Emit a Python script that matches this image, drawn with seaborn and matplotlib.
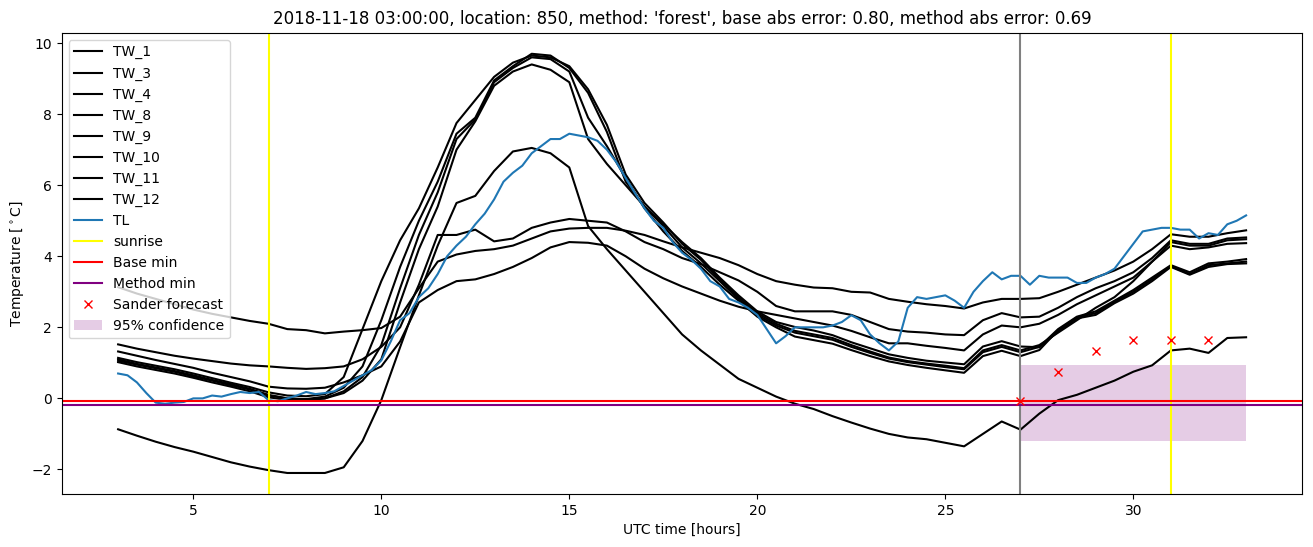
import numpy as np
import matplotlib
matplotlib.use("Agg")
import matplotlib.pyplot as plt
import seaborn as sns

# half-hourly grid for the TW sensors, quarter-hourly for TL
hours = np.arange(3, 33.001, 0.5)
hours_tl = np.arange(3, 33.001, 0.25)

tw_1 = [1.14, 1.02, 0.92, 0.82, 0.7, 0.57, 0.44, 0.32, 0.17, 0.08, 0.06, 0.12, 0.6, 1.95, 3.3, 4.45,
        5.35, 6.5, 7.75, 8.4, 9.05, 9.45, 9.65, 9.6, 9.35, 8.7, 7.7, 6.3, 5.5, 4.95, 4.35, 3.9,
        3.35, 2.85, 2.4, 2.1, 1.9, 1.8, 1.7, 1.5, 1.32, 1.15, 1.05, 0.98, 0.92, 0.85, 1.35, 1.5,
        1.35, 1.5, 1.85, 2.2, 2.55, 2.85, 3.3, 3.85, 4.3, 4.2, 4.25, 4.35, 4.37]
tw_3 = [1.1, 0.97, 0.87, 0.77, 0.65, 0.52, 0.4, 0.27, 0.1, 0.0, -0.02, 0.05, 0.3, 0.9, 2.2, 3.7,
        5.0, 6.1, 7.45, 7.9, 8.95, 9.35, 9.7, 9.65, 9.3, 8.6, 7.5, 6.1, 5.4, 4.85, 4.25, 3.8,
        3.3, 2.8, 2.35, 2.05, 1.85, 1.75, 1.65, 1.45, 1.28, 1.12, 1.02, 0.95, 0.88, 0.82, 1.3, 1.45,
        1.3, 1.45, 1.95, 2.3, 2.45, 2.75, 3.05, 3.4, 3.75, 3.55, 3.8, 3.85, 3.92]
tw_4 = [1.06, 0.95, 0.85, 0.75, 0.62, 0.5, 0.37, 0.25, 0.08, 0.0, -0.03, 0.0, 0.2, 0.6, 1.5, 3.1,
        4.6, 5.8, 7.3, 7.85, 8.9, 9.3, 9.6, 9.55, 9.2, 7.9, 7.1, 6.2, 5.35, 4.7, 4.15, 3.7,
        3.2, 2.75, 2.3, 2.0, 1.74, 1.64, 1.54, 1.36, 1.19, 1.04, 0.94, 0.86, 0.79, 0.72, 1.19, 1.34,
        1.19, 1.36, 1.92, 2.28, 2.4, 2.72, 3.0, 3.35, 3.72, 3.5, 3.75, 3.8, 3.85]
tw_8 = [1.02, 0.9, 0.8, 0.7, 0.58, 0.45, 0.33, 0.2, 0.03, -0.04, -0.06, 0.0, 0.15, 0.5, 1.1, 2.7,
        4.2, 5.4, 7.0, 7.8, 8.8, 9.2, 9.4, 9.25, 8.9, 7.3, 6.6, 6.0, 5.4, 4.9, 4.4, 3.95,
        3.4, 2.9, 2.45, 2.15, 2.01, 1.91, 1.78, 1.58, 1.41, 1.24, 1.14, 1.06, 1.01, 0.96, 1.46, 1.61,
        1.46, 1.44, 1.88, 2.25, 2.35, 2.68, 2.95, 3.3, 3.7, 3.48, 3.7, 3.78, 3.8]
tw_9 = [3.13, 2.95, 2.8, 2.65, 2.5, 2.38, 2.28, 2.18, 2.1, 1.95, 1.92, 1.83, 1.88, 1.92, 1.98, 2.3,
        3.1, 3.85, 4.05, 4.15, 4.2, 4.3, 4.5, 4.7, 4.78, 4.8, 4.8, 4.72, 4.6, 4.42, 4.25, 4.1,
        3.95, 3.75, 3.5, 3.3, 3.2, 3.12, 3.1, 3.0, 2.98, 2.8, 2.72, 2.65, 2.6, 2.53, 2.7, 2.8,
        2.8, 2.82, 3.0, 3.2, 3.4, 3.6, 3.85, 4.2, 4.62, 4.55, 4.55, 4.65, 4.73]
tw_10 = [1.52, 1.4, 1.3, 1.2, 1.12, 1.05, 0.98, 0.93, 0.9, 0.86, 0.83, 0.85, 0.9, 1.1, 1.45, 2.0,
         3.2, 4.6, 4.6, 4.75, 4.42, 4.5, 4.8, 4.95, 5.05, 5.0, 4.95, 4.7, 4.4, 4.2, 3.95, 3.78,
         3.55, 3.32, 3.0, 2.6, 2.45, 2.45, 2.45, 2.35, 2.15, 1.95, 1.88, 1.85, 1.8, 1.78, 2.2, 2.4,
         2.28, 2.3, 2.55, 2.85, 3.1, 3.3, 3.55, 3.95, 4.45, 4.35, 4.35, 4.5, 4.53]
tw_11 = [1.32, 1.2, 1.08, 0.97, 0.86, 0.72, 0.6, 0.48, 0.33, 0.28, 0.27, 0.3, 0.45, 0.65, 0.9, 1.6,
         2.7, 3.05, 3.3, 3.35, 3.5, 3.7, 3.95, 4.25, 4.4, 4.38, 4.3, 4.0, 3.65, 3.38, 3.15, 2.95,
         2.75, 2.58, 2.45, 2.35, 2.25, 2.15, 2.05, 1.9, 1.72, 1.55, 1.55, 1.48, 1.42, 1.35, 1.8, 2.05,
         2.0, 2.1, 2.35, 2.65, 2.9, 3.15, 3.4, 3.85, 4.4, 4.3, 4.3, 4.45, 4.48]
tw_12 = [-0.87, -1.05, -1.22, -1.37, -1.5, -1.65, -1.8, -1.92, -2.02, -2.1, -2.1, -2.1, -1.94, -1.2, -0.05, 1.44,
         2.9, 4.3, 5.5, 5.7, 6.4, 6.95, 7.05, 6.9, 6.5, 4.85, 4.2, 3.6, 3.0, 2.4, 1.8, 1.35,
         0.95, 0.55, 0.3, 0.05, -0.15, -0.3, -0.5, -0.68, -0.85, -1.0, -1.1, -1.15, -1.25, -1.35, -1.0, -0.65,
         -0.88, -0.43, -0.05, 0.1, 0.3, 0.5, 0.75, 0.93, 1.35, 1.4, 1.28, 1.7, 1.72]

tl = [0.70, 0.65, 0.45, 0.15, -0.12, -0.15, -0.12, -0.10, 0.00, 0.00, 0.08, 0.05,
      0.12, 0.18, 0.15, 0.18, -0.05, -0.08, 0.00, 0.08, 0.18, 0.12, 0.15, 0.20,
      0.35, 0.50, 0.65, 0.80, 1.07, 1.60, 2.20, 2.40, 2.85, 3.10, 3.50, 4.00,
      4.30, 4.55, 4.90, 5.20, 5.60, 6.10, 6.35, 6.55, 6.90, 7.10, 7.30, 7.30,
      7.45, 7.40, 7.35, 7.25, 7.00, 6.65, 6.20, 5.77, 5.35, 5.00, 4.80, 4.40,
      4.10, 3.90, 3.65, 3.30, 3.15, 2.80, 2.70, 2.55, 2.35, 1.95, 1.55, 1.75,
      2.00, 2.00, 2.00, 2.00, 2.05, 2.15, 2.34, 2.20, 1.80, 1.55, 1.35, 1.60,
      2.55, 2.85, 2.80, 2.85, 2.90, 2.75, 2.55, 3.00, 3.30, 3.55, 3.35, 3.45,
      3.45, 3.20, 3.45, 3.40, 3.40, 3.40, 3.25, 3.25, 3.40, 3.50, 3.65, 4.00,
      4.35, 4.70, 4.75, 4.80, 4.80, 4.75, 4.75, 4.50, 4.65, 4.60, 4.90, 5.00,
      5.15]

tw_names = ["TW_1", "TW_3", "TW_4", "TW_8", "TW_9", "TW_10", "TW_11", "TW_12"]
tw_values = [tw_1, tw_3, tw_4, tw_8, tw_9, tw_10, tw_11, tw_12]

sunrise_hours = [7, 31]
forecast_start = 27
base_min = -0.08
method_min = -0.19

forecast_hours = [27, 28, 29, 30, 31, 32]
forecast_temp = [-0.07, 0.73, 1.33, 1.63, 1.65, 1.65]
conf_hours = [27, 33]
conf_low = -1.2
conf_high = 0.93

fig, ax = plt.subplots(figsize=(13.13, 5.47), dpi=100)
fig.subplots_adjust(left=0.047, right=0.992, top=0.94, bottom=0.097)

for name, vals in zip(tw_names, tw_values):
    sns.lineplot(x=hours, y=vals, color="black", label=name, ax=ax)
sns.lineplot(x=hours_tl, y=tl, color="tab:blue", label="TL", ax=ax)

ax.axvline(sunrise_hours[0], color="yellow", label="sunrise")
ax.axvline(sunrise_hours[1], color="yellow")
ax.axvline(forecast_start, color="gray")
ax.axhline(base_min, color="red", label="Base min")
ax.axhline(method_min, color="purple", label="Method min")
ax.plot(forecast_hours, forecast_temp, "x", color="red", label="Sander forecast")
ax.fill_between(conf_hours, conf_low, conf_high, color="purple", alpha=0.2,
                linewidth=0, label="95% confidence")

ax.set_title("2018-11-18 03:00:00, location: 850, method: 'forest', "
             "base abs error: 0.80, method abs error: 0.69")
ax.set_xlabel("UTC time [hours]")
ax.set_ylabel(r"Temperature [$^\circ$C]")
ax.legend(loc="upper left")

fig.savefig("out.png")
